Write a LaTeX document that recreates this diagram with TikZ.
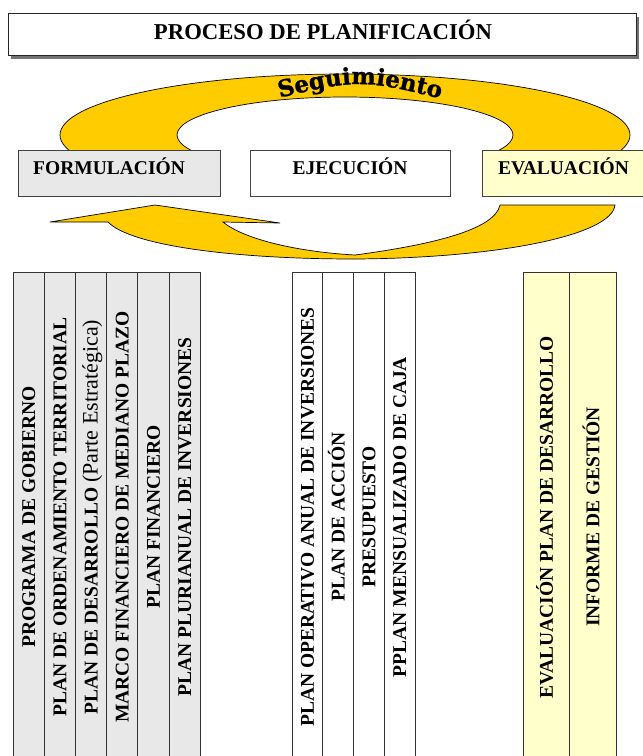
\documentclass[tikz,border=0pt]{standalone}
\usepackage{fontspec}
\setmainfont{Liberation Serif}
\newfontfamily\segfont[FakeBold=1.2]{DejaVu Serif}
\usetikzlibrary{decorations.text,shadows}
\definecolor{ringyellow}{HTML}{FFCC00}
\definecolor{palegray}{HTML}{E8E8E8}
\definecolor{paleyellow}{HTML}{FFFFCC}
\tikzset{
  titlebox/.style={draw=black!85, line width=1pt, fill=white, minimum width=628pt, minimum height=42pt, inner sep=0pt,
    drop shadow={shadow xshift=3pt, shadow yshift=-4pt, fill=black!55, opacity=1}},
  phasebox/.style={draw=black!75, line width=0.8pt, minimum width=#1, minimum height=46pt, inner sep=0pt, anchor=north west},
  lbl/.style={font=\bfseries\fontsize{19.5}{22}\selectfont, inner sep=0pt},
  colnode/.style={draw=black!80, line width=0.8pt, rotate=90, minimum width=490pt, minimum height=#1,
    text height=13pt, text depth=0pt, inner sep=0pt, font=\bfseries\fontsize{19.5}{22}\selectfont},
  ring/.style={fill=ringyellow, draw=black, line width=0.7pt},
}
\begin{document}
\begin{tikzpicture}[x=1pt,y=-1pt]
\clip (0,0) rectangle (643,756);
\fill[white] (0,0) rectangle (643,756);

% title
\node[titlebox] (title) at (322,34) {};
\node[font=\bfseries\fontsize{22.7}{25}\selectfont, inner sep=0pt, anchor=base] (titletext) at (323,39.5) {PROCESO DE PLANIFICACIÓN};

% ring (Seguimiento)
\begin{scope}
  \clip (0,0) rectangle (643,150);
  \path[ring, even odd rule] (345,135) ellipse [x radius=285pt, y radius=61pt]
        (345,135) ellipse [x radius=168pt, y radius=38pt];
\end{scope}
\coordinate (segA) at (262,102);
\coordinate (segC) at (360,78);
\coordinate (segB) at (458,103);
\path[decorate, decoration={text along path, text align=center,
   text={|\segfont\bfseries\fontsize{23}{26}\selectfont|Seguimiento}}]
   (segA) .. controls (segC) .. (segB);

% phase boxes
\node[phasebox=202pt, fill=palegray] (form) at (18,150) {};
\node[phasebox=200pt, fill=white] (ejec) at (250,150) {};
\node[phasebox=170pt, fill=paleyellow] (eval) at (482,150) {};
\node[lbl, anchor=base west] (formt) at (33,174) {FORMULACIÓN};
\node[lbl, anchor=base] (eject) at (350,174) {EJECUCIÓN};
\node[lbl, anchor=base west] (evalt) at (498,174) {EVALUACIÓN};

% return arrow
\coordinate (r1) at (500,205);
\coordinate (r2) at (615,205);
\coordinate (bot) at (355,259);
\coordinate (n1) at (108,222);
\coordinate (tip) at (50,222);
\coordinate (apex) at (155,205);
\coordinate (barb) at (280,223);
\coordinate (n2) at (223,222);
\coordinate (vee) at (355,255);
\path[ring, line join=miter] (r1) -- (r2)
   .. controls (612,235) and (500,258) .. (bot)
   .. controls (230,259) and (130,245) .. (n1)
   -- (tip) -- (apex) -- (barb) -- (n2)
   .. controls (245,240) and (300,252) .. (vee)
   .. controls (430,245) and (495,230) .. (r1) -- cycle;

% formulation columns
\node[colnode=31.2pt, fill=palegray] (f1) at (28.6,517) {PROGRAMA DE GOBIERNO};
\node[colnode=31.2pt, fill=palegray] (f2) at (59.8,517) {PLAN DE ORDENAMIENTO TERRITORIAL};
\node[colnode=31.2pt, fill=palegray] (f3) at (91,517) {PLAN DE DESARROLLO {\mdseries\fontsize{22}{24}\selectfont(Parte Estratégica)}};
\node[colnode=31.2pt, fill=palegray] (f4) at (122.2,517) {MARCO FINANCIERO DE MEDIANO PLAZO};
\node[colnode=31.2pt, fill=palegray] (f5) at (153.4,517) {PLAN FINANCIERO};
\node[colnode=31.2pt, fill=palegray] (f6) at (184.6,517) {PLAN PLURIANUAL DE INVERSIONES};

% execution columns
\node[colnode=30.75pt, fill=white] (e1) at (307.4,517) {PLAN OPERATIVO ANUAL DE INVERSIONES};
\node[colnode=30.75pt, fill=white] (e2) at (338.1,517) {PLAN DE ACCIÓN};
\node[colnode=30.75pt, fill=white] (e3) at (368.9,517) {PRESUPUESTO};
\node[colnode=30.75pt, fill=white] (e4) at (399.6,517) {PPLAN MENSUALIZADO DE CAJA};

% evaluation columns
\node[colnode=46.5pt, fill=paleyellow] (v1) at (546.25,517) {EVALUACIÓN PLAN DE DESARROLLO};
\node[colnode=46.5pt, fill=paleyellow] (v2) at (592.75,517) {INFORME DE GESTIÓN};
\end{tikzpicture}
\end{document}
